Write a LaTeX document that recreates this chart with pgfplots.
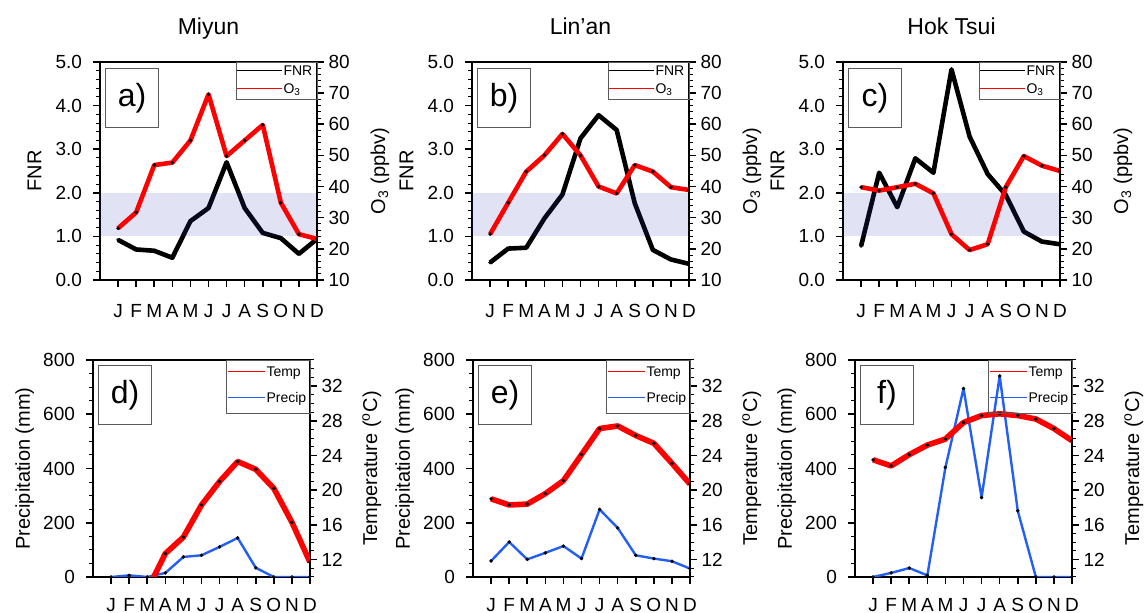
\documentclass[border=0pt]{standalone}
\usepackage{pgfplots}
\usepackage{pgfplotstable}
\pgfplotsset{compat=1.18}
\usepackage{fontspec}
\setmainfont{Liberation Sans}

\definecolor{bandcol}{RGB}{60,60,190}
\definecolor{precipblue}{RGB}{35,95,245}
\definecolor{boxgray}{RGB}{90,90,90}

% monthly FNR and O3 (ppbv)
\pgfplotstableread{
m fnr o3
1 0.92 26.6
2 0.70 31.7
3 0.67 46.9
4 0.51 47.7
5 1.35 54.8
6 1.65 69.6
7 2.70 49.8
8 1.65 54.8
9 1.08 59.8
10 0.96 34.8
11 0.60 24.7
12 0.94 23.2
}\miyun
\pgfplotstableread{
m fnr o3
1 0.40 24.7
2 0.72 34.8
3 0.74 44.8
4 1.41 50.0
5 1.96 56.9
6 3.25 50.0
7 3.78 40.0
8 3.44 37.8
9 1.76 46.9
10 0.69 44.8
11 0.47 39.8
12 0.37 38.9
}\linan
\pgfplotstableread{
m fnr o3
1 0.78 39.8
2 2.46 38.7
3 1.67 39.8
4 2.79 40.9
5 2.46 37.8
6 4.83 24.7
7 3.29 19.6
8 2.43 21.5
9 1.95 39.8
10 1.11 49.8
11 0.88 46.7
12 0.82 45.0
}\hoktsui

% monthly temperature (C) and precipitation (mm)
\pgfplotstableread{
m temp precip
1 -3.0 0
2 -0.5 6
3 8.5 0
4 12.7 15
5 14.6 74
6 18.3 80
7 21.0 111
8 23.3 144
9 22.4 34
10 20.2 0
11 16.3 0
12 11.7 0
}\miyunclim
\pgfplotstableread{
m temp precip
1 19.0 59
2 18.3 129
3 18.4 65
4 19.6 89
5 21.1 114
6 24.1 68
7 27.1 249
8 27.4 181
9 26.3 80
10 25.4 68
11 23.1 58
12 20.7 31
}\linanclim
\pgfplotstableread{
m temp precip
1 23.5 0
2 22.8 15
3 24.1 33
4 25.2 6
5 25.9 404
6 27.8 695
7 28.6 293
8 28.8 741
9 28.6 244
10 28.2 0
11 27.1 0
12 25.7 0
}\hokclim

\tikzset{
  tagbox/.style={draw=boxgray, line width=0.5pt, anchor=north west, inner sep=0pt,
    minimum width=26.5pt, minimum height=29.5pt, font=\fontsize{16}{16}\selectfont},
  sitetitle/.style={anchor=base, yshift=13.5pt, font=\fontsize{11.5}{12}\selectfont},
  legtext/.style={anchor=base west, inner sep=0.5pt, yshift=-2.5pt, text=black,
    font=\fontsize{7}{8}\selectfont},
}

% legend boxes, drawn in the top right corner of the right-hand axis
\newcommand{\fnrlegend}{%
  \draw[boxgray, line width=0.4pt] (rel axis cs:1,1) rectangle ++(-40.5pt,-18.5pt);
  \draw[black, line width=0.5pt] (rel axis cs:1,1) ++(-40pt,-4.5pt) -- ++(22.5pt,0pt)
    node[legtext] {FNR};
  \draw[red, line width=0.5pt] (rel axis cs:1,1) ++(-40pt,-13.3pt) -- ++(22.5pt,0pt)
    node[legtext] {O\textsubscript{3}};
}
\newcommand{\climlegend}{%
  \draw[boxgray, line width=0.4pt] (rel axis cs:1,1) rectangle ++(-42pt,-26.5pt);
  \draw[red, line width=0.5pt] (rel axis cs:1,1) ++(-41pt,-6pt) -- ++(18.5pt,0pt)
    node[legtext] {Temp};
  \draw[precipblue, line width=0.5pt] (rel axis cs:1,1) ++(-41pt,-18.8pt) -- ++(18.5pt,0pt)
    node[legtext] {Precip};
}

\pgfplotsset{
  panel/.style={
    scale only axis, width=108.5pt,
    xmin=0, xmax=12, xtick={1,...,12},
    xticklabels={J,F,M,A,M,J,J,A,S,O,N,D},
    tick align=outside, xtick pos=left,
    major tick length=3.5pt, minor tick length=2pt,
    every major tick/.append style={line width=0.8pt, black},
    every minor tick/.append style={line width=0.5pt, black},
    axis line style={line width=1.2pt},
    tick label style={font=\fontsize{9.5}{10}\selectfont},
    label style={font=\fontsize{10}{11}\selectfont},
    /pgf/number format/assume math mode=true,
    clip mode=individual, clip marker paths=true,
  },
  leftside/.style={ytick pos=left, yticklabel style={xshift=-2pt},
    ylabel style={at={(axis description cs:#1,0.5)}, anchor=center}},
  rightside/.style={axis y line*=right, axis x line=none, tick align=outside,
    yticklabel style={xshift=-1.2pt},
    ylabel style={at={(axis description cs:#1,0.5)}, anchor=center}},
  toprow/.style={panel, height=109pt,
    xticklabel style={text height=6.8pt, yshift=-4.8pt}},
  botrow/.style={panel, height=108.5pt,
    xticklabel style={text height=6.8pt, yshift=-3.4pt}},
  fnraxis/.style={ymin=0, ymax=5, ytick={0,1,...,5}, minor ytick={0,0.2,...,5},
    yticklabel style={/pgf/number format/.cd, fixed, fixed zerofill, precision=1},
    ylabel={FNR}},
  o3axis/.style={ymin=10, ymax=80, ytick={10,20,...,80}, minor ytick={10,12,...,80},
    ylabel={O\textsubscript{3} (ppbv)}},
  praxis/.style={ymin=0, ymax=800, ytick={0,200,...,800}, minor ytick={0,50,...,800},
    ylabel={Precipitation (mm)}},
  taxis/.style={ymin=10, ymax=35, ytick={12,16,...,32}, minor ytick={10,11,...,35},
    ylabel={Temperature (\textsuperscript{o}C)}},
  fnrline/.style={black, line width=2.3pt, line join=round, mark=*, mark size=0.8pt,
    mark options={black, line width=0.2pt}},
  o3line/.style={red, line width=2.3pt, line join=round, mark=*, mark size=0.8pt,
    mark options={black, line width=0.2pt}},
  tline/.style={red, line width=2.8pt, line join=round, mark=*, mark size=0.8pt,
    mark options={black, line width=0.2pt}},
  pline/.style={precipblue, line width=1.2pt, line join=round, mark=*, mark size=0.8pt,
    mark options={black, line width=0.2pt}},
}

\begin{document}
\begin{tikzpicture}
\useasboundingbox (0,0) rectangle (572pt,-306.5pt);

% ---------- a) Miyun ----------
\begin{axis}[toprow, leftside=-0.302, fnraxis, at={(50pt,-31pt)}, anchor=north west]
\addplot[fnrline] table[x=m, y=fnr] {\miyun};
\addplot[draw=none, fill=bandcol, fill opacity=0.15] coordinates {(0,1) (12,1) (12,2) (0,2)} -- cycle;
\node[tagbox, xshift=2.5pt, yshift=-3pt] at (rel axis cs:0,1) {a)};
\node[sitetitle] at (rel axis cs:0.5,1) {Miyun};
\end{axis}
\begin{axis}[toprow, o3axis, rightside=1.29, at={(50pt,-31pt)}, anchor=north west]
\addplot[o3line] table[x=m, y=o3] {\miyun};
\fnrlegend
\end{axis}

% ---------- b) Lin'an ----------
\begin{axis}[toprow, leftside=-0.302, fnraxis, at={(236pt,-31pt)}, anchor=north west]
\addplot[fnrline] table[x=m, y=fnr] {\linan};
\addplot[draw=none, fill=bandcol, fill opacity=0.15] coordinates {(0,1) (12,1) (12,2) (0,2)} -- cycle;
\node[tagbox, xshift=2.5pt, yshift=-3pt] at (rel axis cs:0,1) {b)};
\node[sitetitle] at (rel axis cs:0.5,1) {Lin’an};
\end{axis}
\begin{axis}[toprow, o3axis, rightside=1.29, at={(236pt,-31pt)}, anchor=north west]
\addplot[o3line] table[x=m, y=o3] {\linan};
\fnrlegend
\end{axis}

% ---------- c) Hok Tsui ----------
\begin{axis}[toprow, leftside=-0.302, fnraxis, at={(421.5pt,-31pt)}, anchor=north west]
\addplot[fnrline] table[x=m, y=fnr] {\hoktsui};
\addplot[draw=none, fill=bandcol, fill opacity=0.15] coordinates {(0,1) (12,1) (12,2) (0,2)} -- cycle;
\node[tagbox, xshift=2.5pt, yshift=-3pt] at (rel axis cs:0,1) {c)};
\node[sitetitle] at (rel axis cs:0.5,1) {Hok Tsui};
\end{axis}
\begin{axis}[toprow, o3axis, rightside=1.29, at={(421.5pt,-31pt)}, anchor=north west]
\addplot[o3line] table[x=m, y=o3] {\hoktsui};
\fnrlegend
\end{axis}

% ---------- d) Miyun climate ----------
\begin{axis}[botrow, leftside=-0.315, praxis, at={(46.5pt,-180pt)}, anchor=north west]
\addplot[pline] table[x=m, y=precip] {\miyunclim};
\node[tagbox, xshift=2.5pt, yshift=-2.5pt] at (rel axis cs:0,1) {d)};
\end{axis}
\begin{axis}[botrow, taxis, rightside=1.285, at={(46.5pt,-180pt)}, anchor=north west]
\addplot[tline] table[x=m, y=temp] {\miyunclim};
\climlegend
\end{axis}

% ---------- e) Lin'an climate ----------
\begin{axis}[botrow, leftside=-0.315, praxis, at={(236.5pt,-180pt)}, anchor=north west]
\addplot[pline] table[x=m, y=precip] {\linanclim};
\node[tagbox, xshift=2.5pt, yshift=-2.5pt] at (rel axis cs:0,1) {e)};
\end{axis}
\begin{axis}[botrow, taxis, rightside=1.285, at={(236.5pt,-180pt)}, anchor=north west]
\addplot[tline] table[x=m, y=temp] {\linanclim};
\climlegend
\end{axis}

% ---------- f) Hok Tsui climate ----------
\begin{axis}[botrow, leftside=-0.315, praxis, at={(427.5pt,-180pt)}, anchor=north west]
\addplot[pline] table[x=m, y=precip] {\hokclim};
\node[tagbox, xshift=2.5pt, yshift=-2.5pt] at (rel axis cs:0,1) {f)};
\end{axis}
\begin{axis}[botrow, taxis, rightside=1.285, at={(427.5pt,-180pt)}, anchor=north west]
\addplot[tline] table[x=m, y=temp] {\hokclim};
\climlegend
\end{axis}
\end{tikzpicture}
\end{document}
